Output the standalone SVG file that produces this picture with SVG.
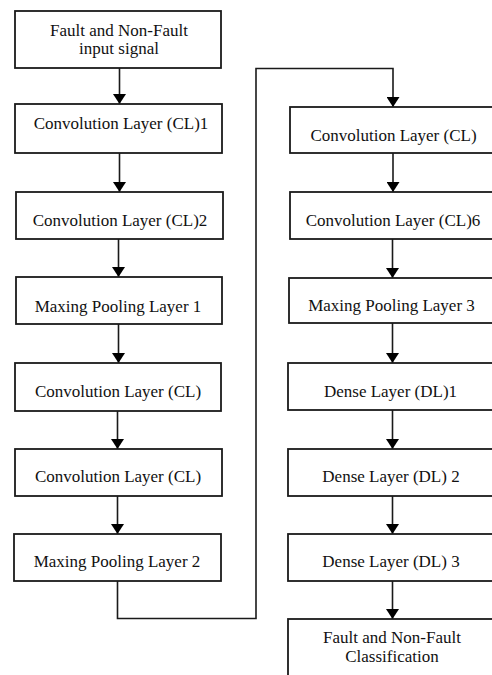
<svg xmlns="http://www.w3.org/2000/svg" width="492" height="675" viewBox="0 0 492 675">
<defs>
<style>
.box{fill:#fff;stroke:#1a1a1a;stroke-width:1.8}
.t{font-family:"Liberation Serif","Times New Roman",serif;font-size:17px;fill:#111;text-anchor:middle}
.c{fill:none;stroke:#1a1a1a;stroke-width:1.6}
</style>
<marker id="ah" markerUnits="userSpaceOnUse" markerWidth="10" markerHeight="13" refX="10" refY="6.5" orient="auto" viewBox="0 0 10 13">
<path d="M0,0 L10,6.5 L0,13 z" fill="#000"/>
</marker>
</defs>
<rect width="492" height="675" fill="#fff"/>
<g id="connectors">
<line class="c" x1="119.5" y1="68" x2="119.5" y2="104" marker-end="url(#ah)"/>
<line class="c" x1="119.5" y1="153" x2="119.5" y2="192" marker-end="url(#ah)"/>
<line class="c" x1="118.5" y1="239" x2="118.5" y2="277" marker-end="url(#ah)"/>
<line class="c" x1="118.5" y1="324" x2="118.5" y2="363" marker-end="url(#ah)"/>
<line class="c" x1="117.5" y1="411" x2="117.5" y2="449" marker-end="url(#ah)"/>
<line class="c" x1="117.5" y1="496" x2="117.5" y2="534" marker-end="url(#ah)"/>
<path class="c" d="M117.5,581 V618.5 H256 V68.5 H393 V107" marker-end="url(#ah)"/>
<line class="c" x1="393" y1="153" x2="393" y2="192" marker-end="url(#ah)"/>
<line class="c" x1="392.5" y1="239" x2="392.5" y2="278" marker-end="url(#ah)"/>
<line class="c" x1="392.5" y1="323" x2="392.5" y2="363" marker-end="url(#ah)"/>
<line class="c" x1="392.5" y1="410" x2="392.5" y2="449" marker-end="url(#ah)"/>
<line class="c" x1="392.5" y1="496" x2="392.5" y2="534" marker-end="url(#ah)"/>
<line class="c" x1="392.5" y1="581" x2="392.5" y2="619" marker-end="url(#ah)"/>
</g>
<g id="n1"><rect class="box" x="15" y="11" width="206" height="57"/><text class="t" x="119" y="35.5">Fault and Non-Fault</text><text class="t" x="119" y="54">input signal</text></g>
<g id="n2"><rect class="box" x="15" y="104" width="207" height="49"/><text class="t" x="121" y="129">Convolution Layer (CL)1</text></g>
<g id="n3"><rect class="box" x="16" y="192" width="207" height="47"/><text class="t" x="120" y="225.5">Convolution Layer (CL)2</text></g>
<g id="n4"><rect class="box" x="16" y="277" width="206" height="47"/><text class="t" x="118" y="311.5">Maxing Pooling Layer 1</text></g>
<g id="n5"><rect class="box" x="15" y="363" width="206" height="48"/><text class="t" x="118" y="397">Convolution Layer (CL)</text></g>
<g id="n6"><rect class="box" x="15" y="449" width="207" height="47"/><text class="t" x="118" y="481.5">Convolution Layer (CL)</text></g>
<g id="n7"><rect class="box" x="14" y="534" width="207" height="47"/><text class="t" x="117" y="566.5">Maxing Pooling Layer 2</text></g>
<g id="n8"><rect class="box" x="290" y="107" width="210" height="46"/><text class="t" x="393.5" y="140.5">Convolution Layer (CL)</text></g>
<g id="n9"><rect class="box" x="290" y="192" width="210" height="47"/><text class="t" x="393" y="225.5">Convolution Layer (CL)6</text></g>
<g id="n10"><rect class="box" x="289" y="278" width="211" height="45"/><text class="t" x="391.5" y="310.5">Maxing Pooling Layer 3</text></g>
<g id="n11"><rect class="box" x="288" y="363" width="212" height="47"/><text class="t" x="390.5" y="396.5">Dense Layer (DL)1</text></g>
<g id="n12"><rect class="box" x="288" y="449" width="212" height="47"/><text class="t" x="391" y="481.5">Dense Layer (DL) 2</text></g>
<g id="n13"><rect class="box" x="288" y="534" width="212" height="47"/><text class="t" x="391" y="566.5">Dense Layer (DL) 3</text></g>
<g id="n14"><rect class="box" x="288" y="619" width="212" height="60"/><text class="t" x="392" y="642.5">Fault and Non-Fault</text><text class="t" x="392" y="661.5">Classification</text></g>
</svg>
